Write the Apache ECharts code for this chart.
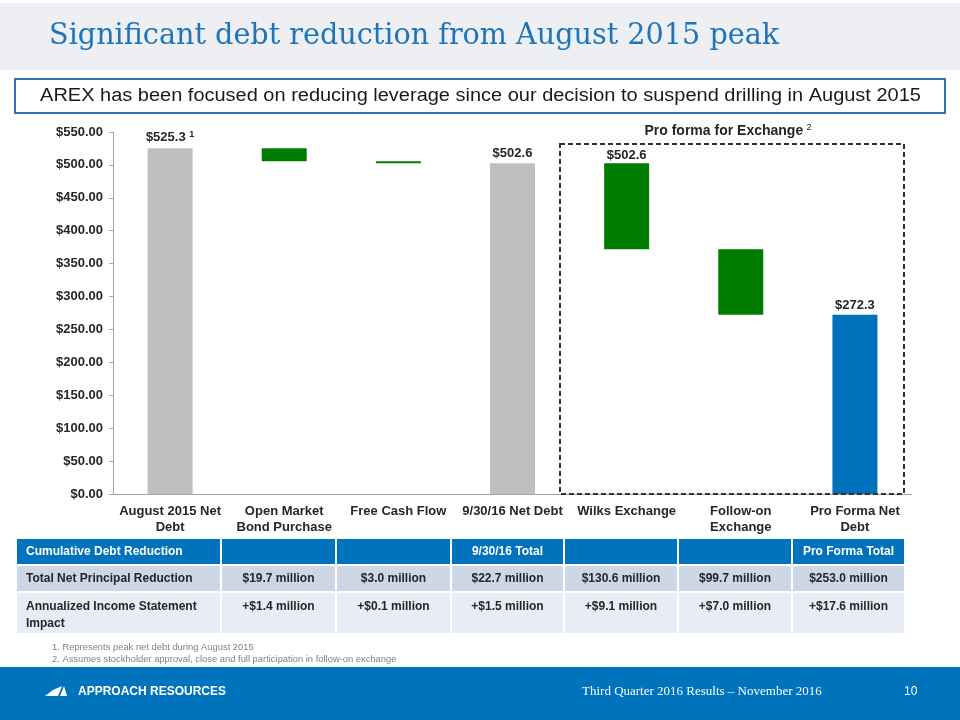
<!DOCTYPE html>
<html><head><meta charset="utf-8">
<script src="https://cdn.jsdelivr.net/npm/echarts@6/dist/echarts.min.js"></script>
<style>html,body{margin:0;padding:0;background:#fff}#c{width:960px;height:720px}</style>
</head><body><div id="c"></div>
<script>
// ---- data ----
const categories = ['August 2015 Net\nDebt', 'Open Market\nBond Purchase', 'Free Cash Flow', '9/30/16 Net Debt', 'Wilks Exchange', 'Follow-on\nExchange', 'Pro Forma Net\nDebt'];
const totals = [525.3, null, null, 502.6, null, null, 272.3];
const reductions = [null, 19.7, 3.0, null, 130.6, 99.7, null];
const totalLabels = ['$525.3', null, null, '$502.6', null, null, '$272.3'];
const totalNotes = ['1', null, null, null, null, null, null];
const reductionLabels = [null, null, null, null, '$502.6', null, null];
const yMin = 0, yMax = 550, yStep = 50;
const tableHeader = ['Cumulative Debt Reduction', '', '', '9/30/16 Total', '', '', 'Pro Forma Total'];
const tableRow1 = ['Total Net Principal Reduction', '$19.7 million', '$3.0 million', '$22.7 million', '$130.6 million', '$99.7 million', '$253.0 million'];
const tableRow2 = ['Annualized Income Statement\nImpact', '+$1.4 million', '+$0.1 million', '+$1.5 million', '+$9.1 million', '+$7.0 million', '+$17.6 million'];
const footnotes = ['1. Represents peak net debt during August 2015', '2. Assumes stockholder approval, close and full participation in follow-on exchange'];
const titleText = 'Significant debt reduction from August 2015 peak';
const subtitleText = 'AREX has been focused on reducing leverage since our decision to suspend drilling in August 2015';
const proFormaText = 'Pro forma for Exchange';
const footerLeft = 'APPROACH RESOURCES';
const footerMid = 'Third Quarter 2016 Results \u2013 November 2016';
const footerPage = '10';

// ---- waterfall base from running level ----
const base = [];
let level = 0;
for (let i = 0; i < categories.length; i++) {
  if (totals[i] != null) { level = totals[i]; base.push('-'); }
  else { level = level - reductions[i]; base.push(level); }
}

const SANS = '"Liberation Sans", Arial, sans-serif';
const SERIF = '"DejaVu Serif", Georgia, serif';
const GREY = '#BFBFBF', GREEN = '#007D00', BLUE = '#0070BA';

// ---- table graphics ----
const colX = [17, 221, 336, 451, 564, 678, 792, 905];
const rowY = [539, 565, 592, 634];
const rowFill = ['#0073BC', '#CDD7E6', '#E8ECF5'];
const rows = [tableHeader, tableRow1, tableRow2];
const tableG = [];
rows.forEach((row, r) => {
  row.forEach((txt, c) => {
    tableG.push({type: 'rect', shape: {x: colX[c] + (c ? 1 : 0), y: rowY[r] + (r ? 1 : 0), width: colX[c + 1] - colX[c] - (c ? 1 : 0) - 1, height: rowY[r + 1] - rowY[r] - (r ? 1 : 0) - 1}, style: {fill: rowFill[r]}});
    if (txt) {
      const left = c === 0;
      tableG.push({type: 'text', x: left ? colX[0] + 9 : (colX[c] + colX[c + 1]) / 2, y: r === 2 ? rowY[r] + 6 : (rowY[r] + rowY[r + 1]) / 2,
        style: {text: txt, fill: r === 0 ? '#fff' : '#262626', font: 'bold 12px ' + SANS,
          align: left ? 'left' : 'center', verticalAlign: r === 2 ? 'top' : 'middle', lineHeight: 17}});
    }
  });
});

const chart = echarts.init(document.getElementById('c'), null, {renderer: 'canvas'});
chart.setOption({
  animation: false,
  backgroundColor: '#fff',
  grid: {left: 113, right: 48, top: 132, bottom: 226},
  xAxis: {
    type: 'category', data: categories,
    axisLine: {lineStyle: {color: '#A6A6A6'}},
    axisTick: {length: 5, lineStyle: {color: '#A6A6A6'}},
    axisLabel: {color: '#262626', fontFamily: SANS, fontWeight: 'bold', fontSize: 13, margin: 9, lineHeight: 16, interval: 0}
  },
  yAxis: {
    type: 'value', min: yMin, max: yMax, interval: yStep,
    splitLine: {show: false},
    axisLine: {show: true, lineStyle: {color: '#A6A6A6'}},
    axisTick: {show: true, length: 4, lineStyle: {color: '#A6A6A6'}},
    axisLabel: {color: '#262626', fontFamily: SANS, fontWeight: 'bold', fontSize: 13, margin: 10,
      formatter: v => '$' + v.toFixed(2)}
  },
  series: [
    {type: 'bar', stack: 'w', data: base, barWidth: 45, itemStyle: {color: 'transparent'}, silent: true},
    {type: 'bar', stack: 'w', data: reductions.map(v => v == null ? '-' : v), barWidth: 45,
      itemStyle: {color: GREEN},
      label: {show: true, position: 'top', distance: 1, color: '#262626', fontFamily: SANS, fontWeight: 'bold', fontSize: 13,
        formatter: p => reductionLabels[p.dataIndex] || ''}},
    {type: 'bar', stack: 'w', data: totals.map(v => v == null ? '-' : v), barWidth: 45,
      itemStyle: {color: p => p.dataIndex === totals.length - 1 ? BLUE : GREY},
      label: {show: true, position: 'top', distance: 3, color: '#262626', fontFamily: SANS, fontWeight: 'bold', fontSize: 13,
        formatter: p => totalNotes[p.dataIndex] ? '{v|' + totalLabels[p.dataIndex] + '} {s|' + totalNotes[p.dataIndex] + '}' : (totalLabels[p.dataIndex] || ''),
        rich: {v: {fontFamily: SANS, fontWeight: 'bold', fontSize: 13, color: '#262626'},
               s: {fontFamily: SANS, fontSize: 9, color: '#262626', verticalAlign: 'top', padding: [0, 0, 6, 0]}}}}
  ],
  graphic: [
    {type: 'rect', shape: {x: 0, y: 3, width: 960, height: 67}, style: {fill: '#EDEFF2'}, z: -1},
    {type: 'text', x: 49, y: 36, scaleX: 0.955, style: {text: titleText, fill: '#1F75B9', font: '30px ' + SERIF, verticalAlign: 'middle'}},
    {type: 'rect', shape: {x: 15, y: 79, width: 930, height: 34}, style: {fill: '#fff', stroke: '#2E74B5', lineWidth: 2}},
    {type: 'text', x: 480.5, y: 96.5, scaleX: 1.11, style: {text: subtitleText, fill: '#1a1a1a', font: '18px ' + SANS, align: 'center', verticalAlign: 'middle'}},
    {type: 'rect', shape: {x: 560, y: 144, width: 344, height: 350}, style: {fill: 'none', stroke: '#333', lineWidth: 2, lineDash: [5, 3]}, z: 5},
    {type: 'text', x: 728, y: 131, style: {text: '{t|' + proFormaText + '} {s|2}', align: 'center', verticalAlign: 'middle',
      rich: {t: {font: 'bold 14px ' + SANS, fill: '#262626'}, s: {font: '9px ' + SANS, fill: '#262626', verticalAlign: 'top', padding: [0, 0, 7, 0]}}}},
    ...tableG,
    {type: 'text', x: 52, y: 647, style: {text: footnotes[0], fill: '#808080', font: '9.4px ' + SANS, verticalAlign: 'middle'}},
    {type: 'text', x: 52, y: 659, style: {text: footnotes[1], fill: '#808080', font: '9.4px ' + SANS, verticalAlign: 'middle'}},
    {type: 'rect', shape: {x: 0, y: 667, width: 960, height: 53}, style: {fill: '#0073BD'}},
    {type: 'polygon', shape: {points: [[45, 696], [53, 690], [62, 686], [58, 696]]}, style: {fill: '#fff'}},
    {type: 'polygon', shape: {points: [[64, 686], [67, 696], [60, 696]]}, style: {fill: '#fff'}},
    {type: 'text', x: 78, y: 692, style: {text: footerLeft, fill: '#fff', font: 'bold 12px ' + SANS, verticalAlign: 'middle'}},
    {type: 'text', x: 582, y: 692, style: {text: footerMid, fill: '#fff', font: '13px "Liberation Serif", Georgia, serif', verticalAlign: 'middle'}},
    {type: 'text', x: 904, y: 692, style: {text: footerPage, fill: '#fff', font: '12px ' + SANS, verticalAlign: 'middle'}}
  ]
});
</script></body></html>
